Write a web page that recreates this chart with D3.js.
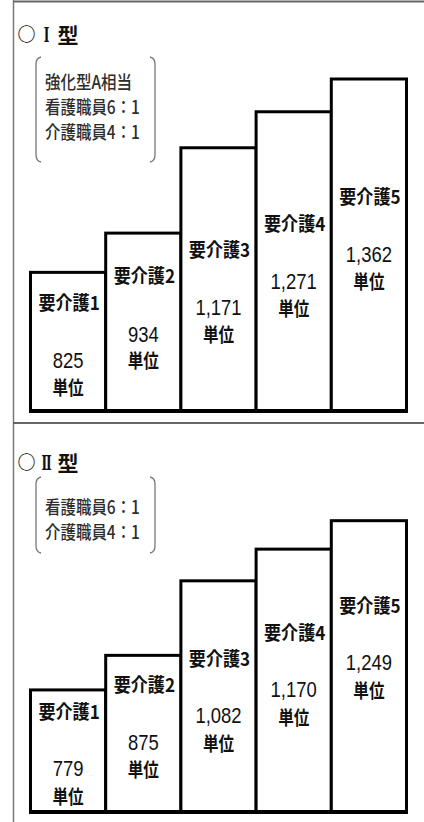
<!DOCTYPE html>
<html><head><meta charset="utf-8">
<script src="https://cdn.jsdelivr.net/npm/d3@7"></script>
<style>
html,body{margin:0;padding:0;background:#fff;}
svg{display:block;}
</style></head><body>
<svg id="chart" width="424" height="822"></svg>
<script>
// Care levels and the monthly unit amounts for each facility type
const levels = ["要介護1", "要介護2", "要介護3", "要介護4", "要介護5"];
const typeIUnits = [825, 934, 1171, 1271, 1362];
const typeIIUnits = [779, 875, 1082, 1170, 1249];
const typeINotes = ["強化型A相当", "看護職員6：1", "介護職員4：1"];
const typeIINotes = ["看護職員6：1", "介護職員4：1"];
const typeNumerals = ["Ⅰ", "Ⅱ"];
const unitLabel = "単位";

const W = 424, H = 822;
const svg = d3.select("#chart");
const fmt = d3.format(",");

// layout of the two stacked panels
const panels = [
  { numeral: typeNumerals[0], units: typeIUnits, notes: typeINotes,
    titleY: 35, noteY: 83, bracket: [57, 162], base: 411,
    labelY0: 303, valueY0: 360, unitY0: 388 },
  { numeral: typeNumerals[1], units: typeIIUnits, notes: typeIINotes,
    titleY: 463, noteY: 508, bracket: [477, 553], base: 812,
    labelY0: 712, valueY0: 768, unitY0: 797 }
];

const x = d3.scaleBand().domain(levels).range([30.5, 406.5]).padding(0);
// shared unit scale: bar height in px for a unit amount (staircase starts above a floor)
const h = d3.scaleLinear().domain([440, 1362]).range([0, 332]);

const cjk = "'Noto Sans CJK JP', 'Noto Sans', sans-serif";
const latin = "'Liberation Sans', Arial, sans-serif";

function squeezed(g, str, cx, cy, o) {
  return g.append("text")
    .attr("transform", `translate(${cx},${cy}) scale(${o.sx},1)`)
    .attr("text-anchor", o.anchor || "middle")
    .attr("dy", o.dy || "0.36em")
    .attr("font-family", o.family)
    .attr("font-size", o.size)
    .attr("font-weight", o.weight || "normal")
    .attr("fill", o.fill || "#111")
    .text(str);
}

// outer frame
svg.append("line").attr("x1", 13).attr("x2", W).attr("y1", 1.5).attr("y2", 1.5)
  .attr("stroke", "#666").attr("stroke-width", 2);
svg.append("line").attr("x1", 13.5).attr("x2", 13.5).attr("y1", 0).attr("y2", H)
  .attr("stroke", "#777").attr("stroke-width", 1.5);
svg.append("line").attr("x1", 13).attr("x2", W).attr("y1", 423).attr("y2", 423)
  .attr("stroke", "#666").attr("stroke-width", 2);

panels.forEach(p => {
  const g = svg.append("g");

  // heading: circle mark, roman numeral, 型
  squeezed(g, "○", 26.5, p.titleY, { sx: 1, family: cjk, size: 18, weight: "bold" });
  squeezed(g, p.numeral, 46.5, p.titleY, { sx: 0.6, family: "'DejaVu Serif', serif", size: 20, weight: "bold" });
  squeezed(g, "型", 68, p.titleY, { sx: 1, family: cjk, size: 21, weight: "bold" });

  // bracketed staffing notes
  const [b0, b1] = p.bracket;
  const br = g.append("g").attr("fill", "none").attr("stroke", "#777").attr("stroke-width", 1.3);
  br.append("path").attr("d", `M41,${b0} Q36,${b0 + 1} 36,${b0 + 7} L36,${b1 - 7} Q36,${b1 - 1} 41,${b1}`);
  br.append("path").attr("d", `M150,${b0} Q155,${b0 + 1} 155,${b0 + 7} L155,${b1 - 7} Q155,${b1 - 1} 150,${b1}`);
  p.notes.forEach((n, i) => {
    squeezed(g, n, 45, p.noteY + i * 25, { sx: 0.86, anchor: "start", family: cjk, size: 18, weight: 500, fill: "#2e2e2e" });
  });

  // staircase bars
  g.selectAll("rect.bar").data(p.units).join("rect")
    .attr("class", "bar")
    .attr("x", (d, i) => x(levels[i]))
    .attr("width", x.bandwidth())
    .attr("y", d => p.base - h(d))
    .attr("height", d => h(d))
    .attr("fill", "#fff").attr("stroke", "#000").attr("stroke-width", 3);

  g.append("line").attr("x1", x.range()[0] - 1.5).attr("x2", x.range()[1] + 1.5)
    .attr("y1", p.base).attr("y2", p.base).attr("stroke", "#000").attr("stroke-width", 4);

  // in-bar labels, stepping up with each level
  const step = 26.4;
  p.units.forEach((v, i) => {
    const cx = x(levels[i]) + x.bandwidth() / 2;
    squeezed(g, levels[i], cx + 1, p.labelY0 - i * step, { sx: 0.9, family: cjk, size: 19, weight: "bold" });
    squeezed(g, fmt(v), cx, p.valueY0 - i * step, { sx: 0.84, family: latin, size: 22, dy: "0.36em" });
    squeezed(g, unitLabel, cx, p.unitY0 - i * step, { sx: 0.82, family: cjk, size: 19, weight: "bold" });
  });
});
</script>
</body></html>
